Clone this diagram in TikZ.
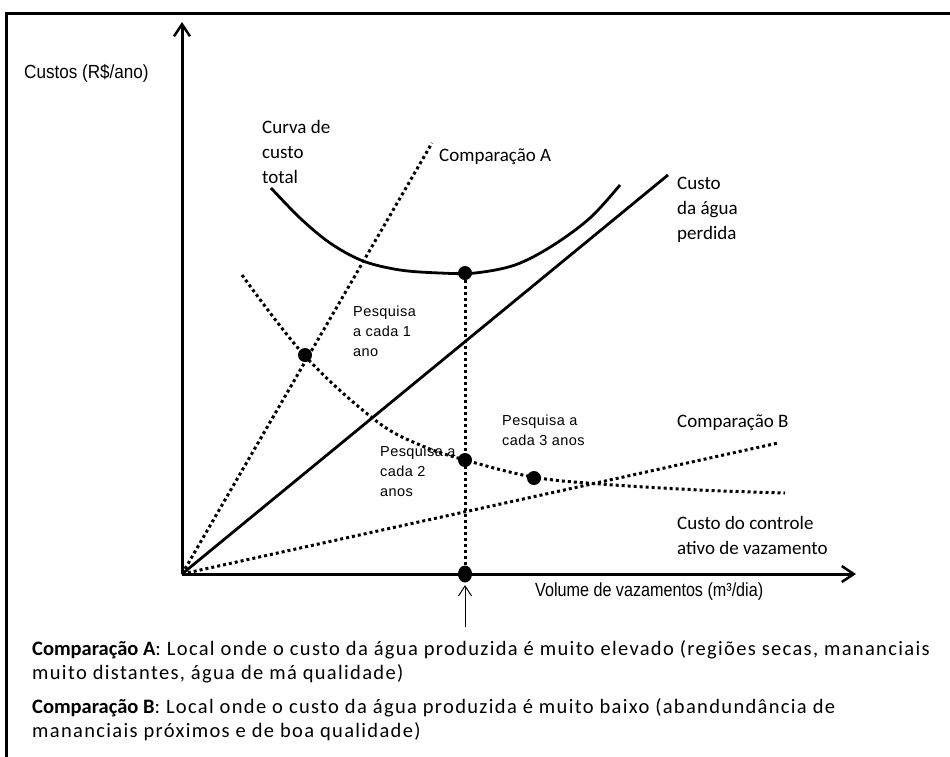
\documentclass[tikz,border=0pt]{standalone}
\usepackage{fontspec}
\setmainfont{Carlito}
\newfontfamily\notef[LetterSpace=6.5]{Carlito}
\newfontfamily\noteb{Carlito}
\newfontfamily\arialf[LetterSpace=3]{Liberation Sans}
\newfontfamily\narrowf[FakeStretch=0.9]{Liberation Sans}
\newfontfamily\narrowg[FakeStretch=0.85]{Liberation Sans}
\usetikzlibrary{arrows.meta,shapes.geometric}
\begin{document}
\begin{tikzpicture}[x=1pt,y=-1pt,
  framel/.style={line width=3pt},
  axisline/.style={line width=3pt},
  solidcurve/.style={line width=2.8pt},
  dotline/.style={line width=3pt, dash pattern=on 3pt off 3pt},
  bigdot/.style={circle, fill=black, inner sep=0pt, minimum size=14pt},
  axisdot/.style={ellipse, fill=black, inner sep=0pt, minimum width=14pt, minimum height=17pt},
  calib/.style={font=\fontsize{19}{25}\selectfont, inner sep=0pt, align=left, anchor=north west},
  note/.style={font=\notef\fontsize{20.5}{24}\selectfont, inner sep=0pt, align=left, anchor=north west},
  ariallab/.style={font=\arialf\fontsize{14.5}{20}\selectfont, inner sep=0pt, align=left, anchor=north west},
  narrowlab/.style={font=\narrowf\fontsize{19}{24}\selectfont, inner sep=0pt, anchor=west},
  narrowlabb/.style={font=\narrowg\fontsize{19}{24}\selectfont, inner sep=0pt, anchor=west},
  axarrow/.style={-{Straight Barb[length=12pt,width=16pt,line width=2.5pt]}},
  smallarrow/.style={line width=1pt,-{Straight Barb[length=10pt,width=13pt,line width=1pt]}}
]
\useasboundingbox (0,0) rectangle (950,756);
% frame
\coordinate (frTR) at (951,13);
\coordinate (frTL) at (6,13);
\coordinate (frBL) at (6,757);
\draw[framel] (frTR) -- (frTL) -- (frBL);

% axes
\coordinate (O) at (182,574);
\coordinate (ytop) at (182,22);
\coordinate (xend) at (856,574);
\draw[axisline, axarrow] (O) -- (ytop);
\draw[axisline, axarrow] (O) -- (xend);

% straight lines from origin
\coordinate (caEnd) at (432,143);
\coordinate (cbEnd) at (778,443);
\coordinate (cwEnd) at (668,175);
\draw[dotline] (O) -- (caEnd);
\draw[dotline] (O) -- (cbEnd);
\draw[solidcurve] (O) -- (cwEnd);

% total cost curve
\draw[solidcurve] plot[smooth, tension=0.55] coordinates {(271,188) (300,218) (330,243) (363,261) (400,270) (440,273) (475,273) (515,265) (552,246) (590,218) (620,185)};

% leakage control curve
\draw[dotline] plot[smooth, tension=0.6] coordinates {(242,275) (305,356) (375,420) (420,445) (465,460) (533,477) (600,484) (700,490) (785,493)};

% dots
\node[bigdot] (dmin) at (465,273) {};
\node[bigdot] (d1) at (305,355) {};
\node[bigdot] (d2) at (465,460) {};
\node[bigdot] (d3) at (534,478) {};
\node[axisdot] (dax) at (465,574) {};
\draw[dotline] (dmin) -- (dax);

% small arrow
\coordinate (arrB) at (465,627);
\coordinate (arrT) at (465,585);
\draw[smallarrow] (arrB) -- (arrT);

% labels
\node[narrowlab] (ylab) at (24,73) {Custos (R\$/ano)};
\node[narrowlabb] (xlab) at (535,592) {Volume de vazamentos (m³/dia)};
\node[calib] (lct) at (262,120) {Curva de\\custo\\total};
\node[calib] (lca) at (439,149) {Comparação A};
\node[calib] (lcw) at (677,177) {Custo\\da água\\perdida};
\node[calib] (lcb) at (677,415) {Comparação B};
\node[calib] (lcc) at (677,516) {Custo do controle\\ativo de vazamento};
\node[ariallab] (p1) at (353,306) {Pesquisa\\a cada 1\\ano};
\node[ariallab] (p3) at (502,415) {Pesquisa a\\cada 3 anos};
\node[ariallab] (p2) at (380,446) {Pesquisa a\\cada 2\\anos};

% notes
\node[note] (noteA) at (32,640) {{\noteb\bfseries Comparação A}: Local onde o custo da água produzida é muito elevado (regiões secas, mananciais\\muito distantes, água de má qualidade)};
\node[note] (noteB) at (32,698) {{\noteb\bfseries Comparação B}: Local onde o custo da água produzida é muito baixo (abandundância de\\mananciais próximos e de boa qualidade)};
\end{tikzpicture}
\end{document}
